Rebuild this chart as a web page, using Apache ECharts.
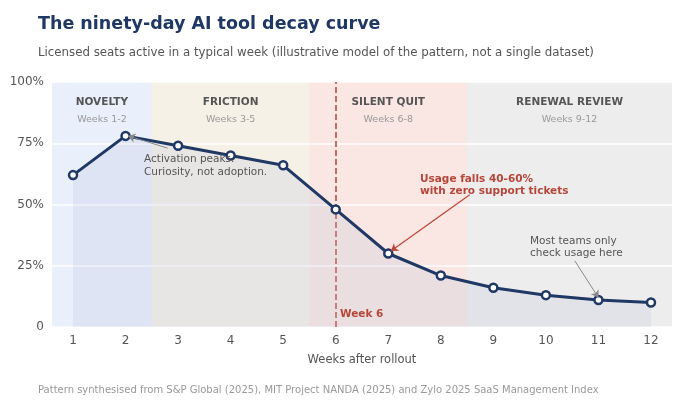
<!DOCTYPE html>
<html>
<head>
<meta charset="utf-8">
<script src="https://cdn.jsdelivr.net/npm/echarts@6/dist/echarts.min.js"></script>
<style>body{margin:0;background:#fff}</style>
</head>
<body>
<div id="main" style="width:700px;height:409px;"></div>
<script>
var weeks = [1, 2, 3, 4, 5, 6, 7, 8, 9, 10, 11, 12];
var activeSeats = [62, 78, 74, 70, 66, 48, 30, 21, 16, 13, 11, 10];
var phases = [
    { name: 'NOVELTY', sub: 'Weeks 1-2', from: 0.6, to: 2.5, color: 'rgba(200,215,245,0.4)' },
    { name: 'FRICTION', sub: 'Weeks 3-5', from: 2.5, to: 5.5, color: 'rgba(235,225,200,0.45)' },
    { name: 'SILENT QUIT', sub: 'Weeks 6-8', from: 5.5, to: 8.5, color: 'rgba(245,200,190,0.45)' },
    { name: 'RENEWAL REVIEW', sub: 'Weeks 9-12', from: 8.5, to: 12.4, color: 'rgba(225,225,225,0.6)' }
];
var yTicks = { 0: '0', 25: '25%', 50: '50%', 75: '75%', 100: '100%' };

var chart = echarts.init(document.getElementById('main'));
var font = 'DejaVu Sans';

chart.setOption({
    animation: false,
    textStyle: { fontFamily: font },
    title: [
        { text: 'The ninety-day AI tool decay curve', left: 33, top: 10,
          textStyle: { fontSize: 17.5, fontWeight: 'bold', color: '#1f3864', fontFamily: font } },
        { text: 'Licensed seats active in a typical week (illustrative model of the pattern, not a single dataset)',
          left: 33, top: 42, textStyle: { fontSize: 11.8, fontWeight: 'normal', color: '#555', fontFamily: font } },
        { text: 'Pattern synthesised from S&P Global (2025), MIT Project NANDA (2025) and Zylo 2025 SaaS Management Index',
          left: 33, top: 380, textStyle: { fontSize: 10, fontWeight: 'normal', color: '#999', fontFamily: font } }
    ],
    grid: { left: 52, right: 28, top: 82, bottom: 82 },
    xAxis: {
        type: 'value', min: 0.6, max: 12.4,
        name: 'Weeks after rollout', nameLocation: 'middle', nameGap: 27,
        nameTextStyle: { color: '#555', fontSize: 11.5 },
        axisLine: { show: false }, axisTick: { show: false }, splitLine: { show: false },
        axisLabel: { color: '#555', fontSize: 12, customValues: weeks }
    },
    yAxis: {
        type: 'value', min: 0, max: 100, interval: 25,
        axisLine: { show: false }, axisTick: { show: false },
        splitLine: { lineStyle: { color: '#fff', width: 1.5 } },
        axisLabel: { color: '#555', fontSize: 12, formatter: function (v) { return yTicks[v]; } },
        z: 5
    },
    series: [{
        type: 'line',
        data: weeks.map(function (w, i) { return [w, activeSeats[i]]; }),
        lineStyle: { color: '#1f3864', width: 3 },
        itemStyle: { color: '#fff', borderColor: '#1f3864', borderWidth: 2.5 },
        symbol: 'circle', symbolSize: 8,
        areaStyle: { color: 'rgba(180,190,215,0.3)' },
        z: 10,
        markArea: {
            silent: true,
            data: phases.map(function (p) {
                return [{ xAxis: p.from, yAxis: 0, itemStyle: { color: p.color },
                    label: { show: true, position: 'insideTop', distance: 10,
                        formatter: '{a|' + p.name + '}\n{b|' + p.sub + '}',
                        rich: { a: { fontSize: 10.5, fontWeight: 'bold', color: '#555', lineHeight: 20, fontFamily: font },
                                b: { fontSize: 9.5, color: '#999', lineHeight: 16, fontFamily: font } } } },
                    { xAxis: p.to, yAxis: 100 }];
            })
        },
        markLine: {
            silent: true, symbol: 'none', label: { show: false },
            data: [{ xAxis: 6, lineStyle: { color: '#b5473a', type: 'dashed', width: 1.5, opacity: 1 } }]
        }
    }, {
        type: 'lines', coordinateSystem: 'cartesian2d', silent: true, z: 12,
        data: [
            { coords: [[2.8, 73], [2.05, 78]], lineStyle: { color: '#888', width: 1, opacity: 1 } },
            { coords: [[8.55, 54], [7.05, 31]], lineStyle: { color: '#c0443a', width: 1.2, opacity: 1 } },
            { coords: [[10.55, 27], [11, 12]], lineStyle: { color: '#888', width: 1, opacity: 1 } }
        ],
        symbol: ['none', 'arrow'], symbolSize: 7
    }],
    graphic: [
        { type: 'text', left: 144, top: 153, z: 20, style: { text: 'Activation peaks.\nCuriosity, not adoption.', fill: '#555', font: '10.5px DejaVu Sans', lineHeight: 13 } },
        { type: 'text', left: 420, top: 173, z: 20, style: { text: 'Usage falls 40-60%\nwith zero support tickets', fill: '#b5473a', font: 'bold 10.5px DejaVu Sans', lineHeight: 12 } },
        { type: 'text', left: 530, top: 235, z: 20, style: { text: 'Most teams only\ncheck usage here', fill: '#555', font: '10.5px DejaVu Sans', lineHeight: 12 } },
        { type: 'text', left: 340, top: 309, z: 20, style: { text: 'Week 6', fill: '#b5473a', font: 'bold 10.5px DejaVu Sans' } }
    ]
});
</script>
</body>
</html>
